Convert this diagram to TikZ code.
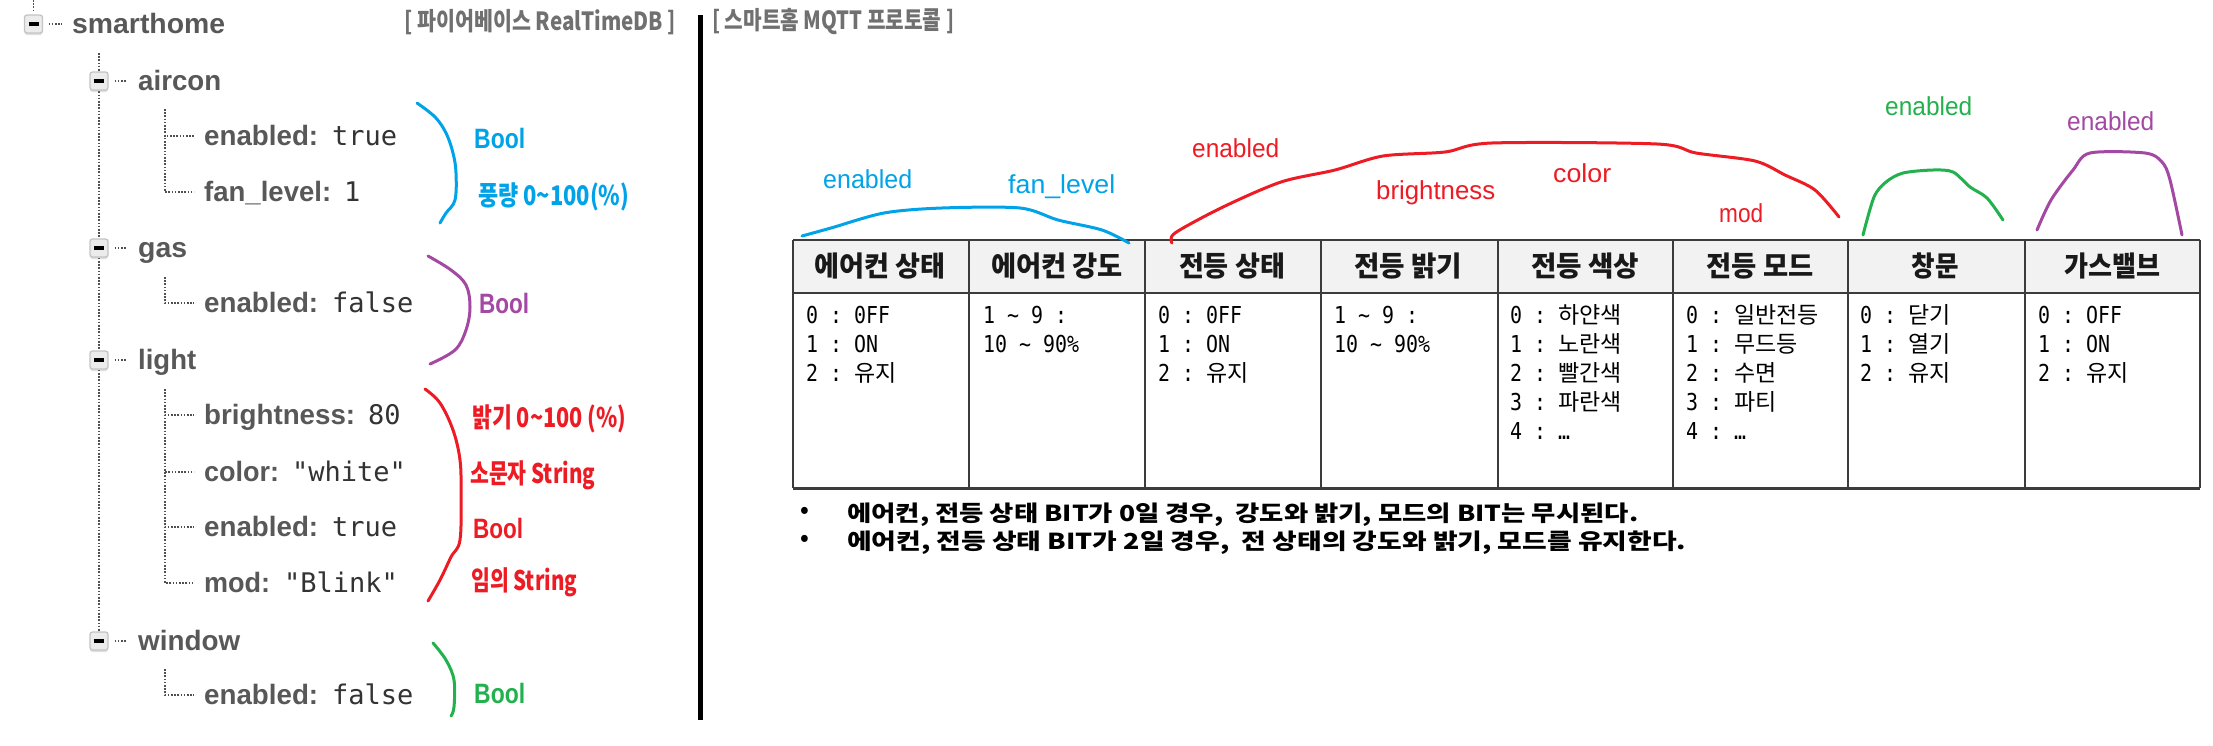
\documentclass[tikz,border=0pt]{standalone}
\usepackage{fontspec}
\usepackage{graphicx}
\usetikzlibrary{calc,shadows}
\setmainfont{Liberation Sans}
\newfontfamily\krfont{Noto Sans CJK KR}
\newfontfamily\monofont{DejaVu Sans Mono}
\newfontfamily\cellmono[FakeStretch=0.855]{DejaVu Sans Mono}
\newcommand\tw[2]{\resizebox{#1pt}{\height}{#2}}
\newcommand\K[1]{{\krfont\fontsize{23}{29}\selectfont #1}}
\definecolor{treegray}{RGB}{88,88,88}
\definecolor{valgray}{RGB}{51,51,51}
\definecolor{hdrgray}{RGB}{112,112,112}
\definecolor{dotc}{RGB}{80,80,80}
\definecolor{boxline}{RGB}{196,196,196}
\definecolor{boxfill}{RGB}{236,236,236}
\definecolor{pblue}{RGB}{0,162,232}
\definecolor{pred}{RGB}{237,28,36}
\definecolor{pgreen}{RGB}{34,177,76}
\definecolor{ppurple}{RGB}{163,73,164}
\definecolor{tline}{RGB}{60,60,60}
\definecolor{thead}{RGB}{242,242,242}
\frenchspacing
\begin{document}
\begin{tikzpicture}[x=1pt,y=-1pt,
  treebox/.style={draw=boxline, fill=boxfill, rounded corners=2.5pt, minimum width=18pt, minimum height=18pt, inner sep=0pt, line width=1.3pt, drop shadow={shadow xshift=0pt, shadow yshift=-2pt, opacity=0.25}},
  tdot/.style={draw=dotc, line width=1.6pt, dash pattern=on 1.6pt off 1.6pt},
  treetxt/.style={anchor=west, inner sep=0pt, text height=24pt, text depth=6pt, text=treegray, font=\fontsize{28}{30}\selectfont\bfseries},
  treeval/.style={anchor=west, inner sep=0pt, text height=24pt, text depth=6pt, text=valgray, font=\fontsize{27}{30}\selectfont\monofont},
  brk/.style={line width=3pt, line cap=round, line join=round},
  llbl/.style={anchor=base west, inner sep=0pt, font=\fontsize{28}{30}\selectfont\bfseries},
  klbl/.style={anchor=base west, inner sep=0pt, font=\fontsize{27}{30}\selectfont\krfont\bfseries},
  rlbl/.style={anchor=base west, inner sep=0pt, font=\fontsize{26}{30}\selectfont},
  hdr/.style={anchor=west, inner sep=0pt, text=hdrgray, font=\fontsize{25}{30}\selectfont\krfont\bfseries},
  th/.style={inner sep=0pt, text=black!90, font=\fontsize{28}{30}\selectfont\krfont\bfseries},
  cell/.style={anchor=base west, inner sep=0pt, text=black, font=\fontsize{23.3}{29}\selectfont\cellmono\frenchspacing},
  note/.style={anchor=base west, inner sep=0pt, font=\fontsize{22}{28}\selectfont\krfont\bfseries},
]
\useasboundingbox (0,0) rectangle (2213,745);
\fill[white] (0,0) rectangle (2213,745);

% ---------- tree ----------
\coordinate (rtop) at (33.5,0);
\coordinate (ctop) at (99,53);
\coordinate (la) at (165,109);
\coordinate (lg) at (165,277);
\coordinate (ll) at (165,389);
\coordinate (lw) at (165,669);

\draw[tdot] (rtop) -- (33.5,12);
\draw[tdot] (ctop) -- (99,632);

\node[treebox] (rootbox) at (33.5,24) {\rule{10pt}{3.5pt}};
\node[treebox] (b1) at (99,81) {\rule{10pt}{3.5pt}};
\node[treebox] (b2) at (99,248) {\rule{10pt}{3.5pt}};
\node[treebox] (b3) at (99,360) {\rule{10pt}{3.5pt}};
\node[treebox] (b4) at (99,641) {\rule{10pt}{3.5pt}};

\node[treetxt] (root) at (72,24) {\tw{153}{smarthome}};
\node[treetxt] (t1) at (138,81) {\tw{83}{aircon}};
\node[treetxt] (t2) at (138,248) {\tw{49}{gas}};
\node[treetxt] (t3) at (138,360) {\tw{58}{light}};
\node[treetxt] (t4) at (138,641) {\tw{102}{window}};

\draw[tdot] ([xshift=5.5pt]rootbox.east) -- ([xshift=-10pt]root.west);
\foreach \i in {1,2,3,4} \draw[tdot] ([xshift=6pt]b\i.east) -- ([xshift=-11pt]t\i.west);

% leaves
\node[treetxt] (k1) at (204,136) {\tw{114}{enabled:}};
\node[treeval] (v1) at (332,136) {true};
\node[treetxt] (k2) at (204,192) {\tw{127}{fan\_level:}};
\node[treeval] (v2) at (344,192) {1};
\node[treetxt] (k3) at (204,303) {\tw{114}{enabled:}};
\node[treeval] (v3) at (332,303) {false};
\node[treetxt] (k4) at (204,415) {\tw{151}{brightness:}};
\node[treeval] (v4) at (368,415) {80};
\node[treetxt] (k5) at (204,472) {\tw{75}{color:}};
\node[treeval] (v5) at (292,472) {"white"};
\node[treetxt] (k6) at (204,527) {\tw{114}{enabled:}};
\node[treeval] (v6) at (332,527) {true};
\node[treetxt] (k7) at (204,583) {\tw{66}{mod:}};
\node[treeval] (v7) at (284,583) {"Blink"};
\node[treetxt] (k8) at (204,695) {\tw{114}{enabled:}};
\node[treeval] (v8) at (332,695) {false};

\draw[tdot] (la) |- ([xshift=-10pt]k1.west);
\draw[tdot] (la) |- ([xshift=-10pt]k2.west);
\draw[tdot] (lg) |- ([xshift=-10pt]k3.west);
\foreach \i in {4,5,6,7} \draw[tdot] (ll) |- ([xshift=-10pt]k\i.west);
\draw[tdot] (lw) |- ([xshift=-10pt]k8.west);

% left brackets
\draw[brk, pblue] plot[smooth, tension=0.6] coordinates {(417,103) (435,117) (446,133) (453,153) (456,173) (455,200) (446,213) (440,223)};
\draw[brk, ppurple] plot[smooth, tension=0.6] coordinates {(428,256) (451,270) (466,285) (470,307) (466,330) (455,350) (430,364)};
\draw[brk, pred] plot[smooth, tension=0.6] coordinates {(425,389) (440,403) (453,430) (460,460) (461,493) (460,540) (451,557) (440,580) (428,601)};
\draw[brk, pgreen] plot[smooth, tension=0.6] coordinates {(433,643) (446,660) (454,680) (454,707) (451,716)};

\node[llbl, text=pblue] (lb1) at (474,148) {\tw{51}{Bool}};
\node[klbl, text=pblue] (lb2) at (478,205) {\tw{151}{풍량 0\textasciitilde100(\%)}};
\node[llbl, text=ppurple] (lb3) at (479,313) {\tw{50}{Bool}};
\node[klbl, text=pred] (lb4) at (472,427) {\tw{154}{밝기 0\textasciitilde100 (\%)}};
\node[klbl, text=pred] (lb5) at (470,483) {\tw{125}{소문자 String}};
\node[llbl, text=pred] (lb6) at (473,538) {\tw{50}{Bool}};
\node[klbl, text=pred] (lb7) at (471,590) {\tw{106}{임의 String}};
\node[llbl, text=pgreen] (lb8) at (474,703) {\tw{51}{Bool}};

% headers and divider
\node[hdr] (h1) at (404,22) {\tw{272}{[ 파이어베이스 RealTimeDB ]}};
\node[hdr] (h2) at (712,22) {\tw{242}{[ 스마트홈 MQTT 프로토콜 ]}};
\draw[black, line width=5pt] (700,15) -- (700,720);

% ---------- table ----------
\fill[thead] (793,240) rectangle (2200,293);
\draw[tline, line width=2pt] (793,240) -- (2200,240);
\draw[tline, line width=2.6pt] (793,293) -- (2200,293);
\draw[tline, line width=3pt] (793,488) -- (2200,488);
\foreach \x in {793,969,1145,1321,1498,1673,1848,2025,2200} \draw[tline, line width=2pt] (\x,240) -- (\x,488);

\node[th] (th1) at (880,266) {\tw{131}{에어컨 상태}};
\node[th] (th2) at (1057,266) {\tw{132}{에어컨 강도}};
\node[th] (th3) at (1232,266) {\tw{106}{전등 상태}};
\node[th] (th4) at (1408,266) {\tw{108}{전등 밝기}};
\node[th] (th5) at (1585,266) {\tw{108}{전등 색상}};
\node[th] (th6) at (1760,266) {\tw{107}{전등 모드}};
\node[th] (th7) at (1935,266) {\tw{47}{창문}};
\node[th] (th8) at (2112,266) {\tw{96}{가스밸브}};

\foreach \t [count=\i] in {0 : 0FF, 1 : ON, 2 : \K{유지}}
  \node[cell] (ca\i) at ({806},{323+29*(\i-1)}) {\t};
\foreach \t [count=\i] in {1 \textasciitilde{} 9 :, 10 \textasciitilde{} 90\%}
  \node[cell] (cb\i) at ({983},{323+29*(\i-1)}) {\t};
\foreach \t [count=\i] in {0 : 0FF, 1 : ON, 2 : \K{유지}}
  \node[cell] (cc\i) at ({1158},{323+29*(\i-1)}) {\t};
\foreach \t [count=\i] in {1 \textasciitilde{} 9 :, 10 \textasciitilde{} 90\%}
  \node[cell] (cd\i) at ({1334},{323+29*(\i-1)}) {\t};
\foreach \t [count=\i] in {0 : \K{하얀색}, 1 : \K{노란색}, 2 : \K{빨간색}, 3 : \K{파란색}, 4 : …}
  \node[cell] (ce\i) at ({1510},{323+29*(\i-1)}) {\t};
\foreach \t [count=\i] in {0 : \K{일반전등}, 1 : \K{무드등}, 2 : \K{수면}, 3 : \K{파티}, 4 : …}
  \node[cell] (cf\i) at ({1686},{323+29*(\i-1)}) {\t};
\foreach \t [count=\i] in {0 : \K{닫기}, 1 : \K{열기}, 2 : \K{유지}}
  \node[cell] (cg\i) at ({1860},{323+29*(\i-1)}) {\t};
\foreach \t [count=\i] in {0 : OFF, 1 : ON, 2 : \K{유지}}
  \node[cell] (ch\i) at ({2038},{323+29*(\i-1)}) {\t};

% notes
\node[note, anchor=center] (bu1) at (805,512) {•};
\node[note, anchor=center] (bu2) at (805,540) {•};
\node[note] (n1) at (847,521) {\tw{791}{에어컨, 전등 상태 BIT가 0일 경우,\ \ 강도와 밝기, 모드의 BIT는 무시된다.}};
\node[note] (n2) at (847,549) {\tw{839}{에어컨, 전등 상태 BIT가 2일 경우,\ \ 전 상태의 강도와 밝기, 모드를 유지한다.}};

% ---------- hand-drawn annotations over the table ----------
\draw[brk, pblue] plot[smooth, tension=0.5] coordinates {(802,236) (831,228) (884,213) (942,208) (1020,208) (1058,220) (1102,230) (1129,243)};
\draw[brk, pred] plot[smooth, tension=0.5] coordinates {(1172,243) (1175,233) (1223,207) (1281,182) (1335,170) (1383,156) (1445,152) (1492,143) (1657,144) (1696,153) (1755,161) (1785,175) (1815,190) (1839,217)};
\draw[brk, pgreen] plot[smooth, tension=0.5] coordinates {(1863,235) (1874,197) (1886,182) (1903,173) (1933,170) (1953,172) (1970,187) (1987,198) (2003,220)};
\draw[brk, ppurple] plot[smooth, tension=0.5] coordinates {(2037,230) (2051,200) (2073,170) (2090,153) (2145,153) (2162,162) (2170,180) (2182,235)};

\node[rlbl, text=pblue] (r1) at (823,188) {\tw{89}{enabled}};
\node[rlbl, text=pblue] (r2) at (1008,193) {\tw{107}{fan\_level}};
\node[rlbl, text=pred] (r3) at (1192,157) {\tw{87}{enabled}};
\node[rlbl, text=pred] (r4) at (1376,199) {\tw{119}{brightness}};
\node[rlbl, text=pred] (r5) at (1553,182) {\tw{58}{color}};
\node[rlbl, text=pred] (r6) at (1719,222) {\tw{44}{mod}};
\node[rlbl, text=pgreen] (r7) at (1885,115) {\tw{87}{enabled}};
\node[rlbl, text=ppurple] (r8) at (2067,130) {\tw{87}{enabled}};
\end{tikzpicture}
\end{document}
